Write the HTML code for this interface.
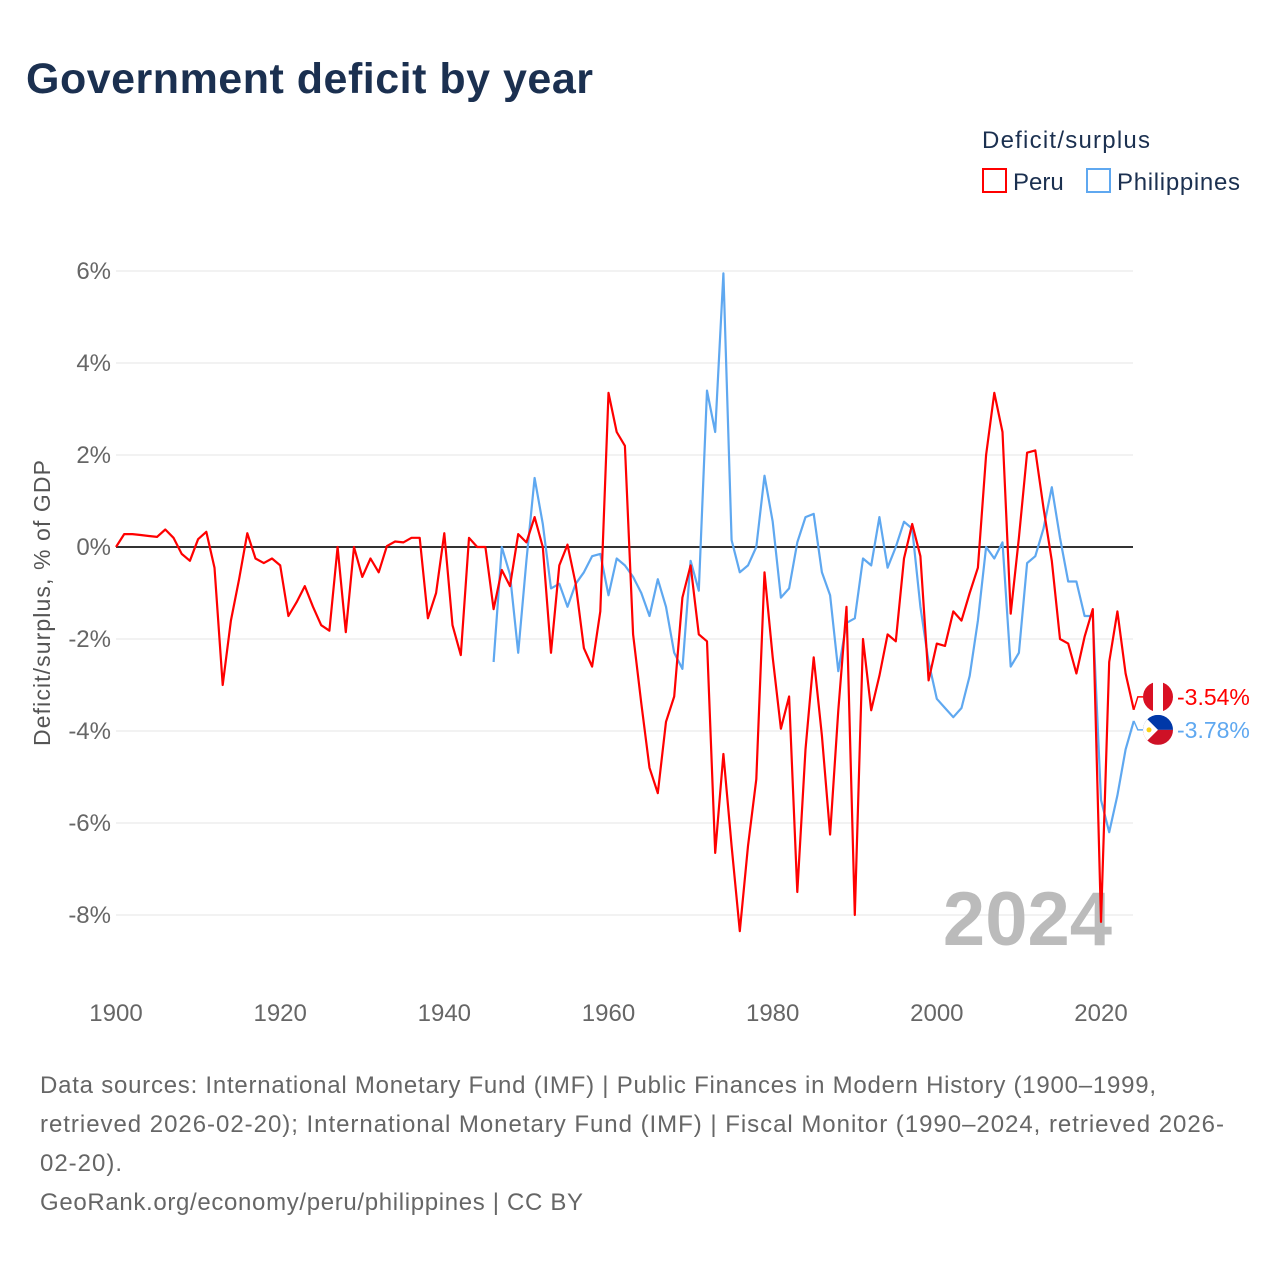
<!DOCTYPE html>
<html><head><meta charset="utf-8"><style>
body{margin:0;background:#fff;width:1280px;height:1280px;overflow:hidden;font-family:"Liberation Sans",sans-serif}
</style></head><body>
<svg id="chart" width="1280" height="1280" xmlns="http://www.w3.org/2000/svg">
<defs>
<clipPath id="cpPeru"><circle id="cpPeruC" cx="1158" cy="697" r="15"/></clipPath>
<clipPath id="cpPhl"><circle id="cpPhlC" cx="1158" cy="730" r="15"/></clipPath>
</defs>
<text x="26" y="93" font-size="43" font-weight="bold" fill="#1b3050" textLength="567">Government deficit by year</text>
<text x="982" y="148" font-size="24" fill="#1b3050" textLength="168">Deficit/surplus</text>
<g><rect x="983" y="169" width="23" height="23" fill="none" stroke="#f00" stroke-width="2"/><text x="1013" y="190" font-size="24" fill="#1b3050">Peru</text></g>
<g><rect x="1087" y="169" width="23" height="23" fill="none" stroke="#5fa8f0" stroke-width="2"/><text x="1117" y="190" font-size="24" fill="#1b3050" textLength="123">Philippines</text></g>
<g id="grid"></g><g id="xt"></g>
<text transform="translate(50,603) rotate(-90)" text-anchor="middle" font-size="23" fill="#555" textLength="286">Deficit/surplus, % of GDP</text>
<text x="1112" y="945" text-anchor="end" font-size="76" font-weight="bold" fill="#bbb">2024</text>
<g id="series"></g>
<g id="ends"></g>
<g font-size="24" fill="#666">
<text x="40" y="1093" textLength="1116">Data sources: International Monetary Fund (IMF) | Public Finances in Modern History (1900–1999,</text>
<text x="40" y="1132" textLength="1184">retrieved 2026-02-20); International Monetary Fund (IMF) | Fiscal Monitor (1990–2024, retrieved 2026-</text>
<text x="40" y="1171" textLength="82">02-20).</text>
<text x="40" y="1210" textLength="543">GeoRank.org/economy/peru/philippines | CC BY</text>
</g>
</svg>
<script>
const peruStart = 1900;
const peruValues = [0,.28,.28,.26,.24,.22,.38,.2,-.15,-.3,.17,.33,-.45,-3.0,-1.6,-.7,.3,-.25,-.35,-.25,-.4,-1.5,-1.2,-.85,-1.3,-1.7,-1.82,0,-1.85,0,-.65,-.25,-.55,.02,.12,.1,.2,.2,-1.55,-1.0,.3,-1.7,-2.35,.2,0,0,-1.35,-.5,-.85,.28,.1,.65,0,-2.3,-.4,.05,-.8,-2.2,-2.6,-1.4,3.35,2.5,2.2,-1.9,-3.4,-4.8,-5.35,-3.8,-3.25,-1.1,-.4,-1.9,-2.05,-6.65,-4.5,-6.5,-8.35,-6.5,-5.05,-.55,-2.4,-3.95,-3.25,-7.5,-4.4,-2.4,-4.1,-6.25,-3.55,-1.3,-8.0,-2.0,-3.55,-2.8,-1.9,-2.05,-.25,.5,-.2,-2.9,-2.1,-2.15,-1.4,-1.6,-1.0,-.45,2.0,3.35,2.5,-1.45,.2,2.05,2.1,.85,-.3,-2.0,-2.1,-2.75,-1.95,-1.35,-8.15,-2.5,-1.4,-2.75,-3.54];
const phlStart = 1946;
const phlValues = [-2.5,0,-.6,-2.3,-.3,1.5,.5,-.9,-.8,-1.3,-.8,-.55,-.2,-.15,-1.05,-.25,-.4,-.65,-1.0,-1.5,-.7,-1.3,-2.3,-2.65,-.3,-.95,3.4,2.5,5.95,.15,-.55,-.4,0,1.55,.55,-1.1,-.9,.1,.65,.72,-.55,-1.05,-2.7,-1.65,-1.55,-.25,-.4,.65,-.45,0,.55,.4,-1.3,-2.5,-3.3,-3.5,-3.7,-3.5,-2.8,-1.6,0,-.25,.1,-2.6,-2.3,-.35,-.2,.4,1.3,.2,-.75,-.75,-1.5,-1.5,-5.5,-6.2,-5.4,-4.4,-3.78];
const yTicks = [6,4,2,0,-2,-4,-6,-8];
const xTicks = [1900,1920,1940,1960,1980,2000,2020];
const NS='http://www.w3.org/2000/svg';
const X = yr => 116 + (yr-1900)*(1101-116)/120;
const Y = v => 547 - v*46;
function mk(tag, attrs, parent){const e=document.createElementNS(NS,tag);for(const k in attrs)e.setAttribute(k,attrs[k]);parent.appendChild(e);return e;}
const grid=document.getElementById('grid');
yTicks.forEach(t=>{
  const l=mk('line',{x1:116,x2:1133,y1:Y(t),y2:Y(t),stroke:t===0?'#333':'#e6e6e6','stroke-width':t===0?2:1},grid);
  
  
  const tx=mk('text',{x:111,y:Y(t)+8,'text-anchor':'end','font-size':24,fill:'#666'},grid);
  tx.textContent=t+'%';
  
  
});
const xt=document.getElementById('xt');
xTicks.forEach(t=>{
  const tx=mk('text',{x:X(t),y:1021,'text-anchor':'middle','font-size':24,fill:'#666'},xt);
  tx.textContent=t;
  
  
});
const ser=document.getElementById('series');
function line(start, vals, color, name){
  const pts=vals.map((v,i)=>X(start+i).toFixed(1)+','+Y(v).toFixed(1)).join(' ');
  const p=mk('polyline',{points:pts,fill:'none',stroke:color,'stroke-width':2.2,'stroke-linejoin':'round'},ser);
  
  
}
line(phlStart, phlValues, '#5fa8f0', 'philippines-line');
line(peruStart, peruValues, '#f00', 'peru-line');
const ends=document.getElementById('ends');
const pv=peruValues[peruValues.length-1], hv=phlValues[phlValues.length-1];
const x0=X(2024);
const py=Y(pv)-13, hy=Y(hv)+9;
document.getElementById('cpPeruC').setAttribute('cy', py);
document.getElementById('cpPhlC').setAttribute('cy', hy);
mk('polyline',{points:`${x0},${Y(pv)} ${x0+4},${py} ${x0+10},${py}`,fill:'none',stroke:'#f00','stroke-width':1.5},ends);
const pf=mk('g',{'clip-path':'url(#cpPeru)'},ends);


mk('rect',{x:1143,y:py-15,width:30,height:30,fill:'#fff'},pf);
mk('rect',{x:1143,y:py-15,width:10,height:30,fill:'#d91023'},pf);
mk('rect',{x:1163,y:py-15,width:10,height:30,fill:'#d91023'},pf);
const pt=mk('text',{x:1177,y:py+8,'font-size':23,fill:'#f00'},ends);
pt.textContent=pv.toFixed(2)+'%';


mk('polyline',{points:`${x0},${Y(hv)} ${x0+4},${hy} ${x0+10},${hy}`,fill:'none',stroke:'#5fa8f0','stroke-width':1.5},ends);
const hf=mk('g',{'clip-path':'url(#cpPhl)'},ends);


mk('rect',{x:1143,y:hy-15,width:30,height:15,fill:'#0038a8'},hf);
mk('rect',{x:1143,y:hy,width:30,height:15,fill:'#ce1126'},hf);
mk('polygon',{points:`1143,${hy-15} 1158,${hy} 1143,${hy+15}`,fill:'#fff'},hf);
mk('circle',{cx:1149,cy:hy,r:2.5,fill:'#fcd116'},hf);
const ht=mk('text',{x:1177,y:hy+8,'font-size':23,fill:'#5fa8f0'},ends);
ht.textContent=hv.toFixed(2)+'%';


</script>
</body></html>
